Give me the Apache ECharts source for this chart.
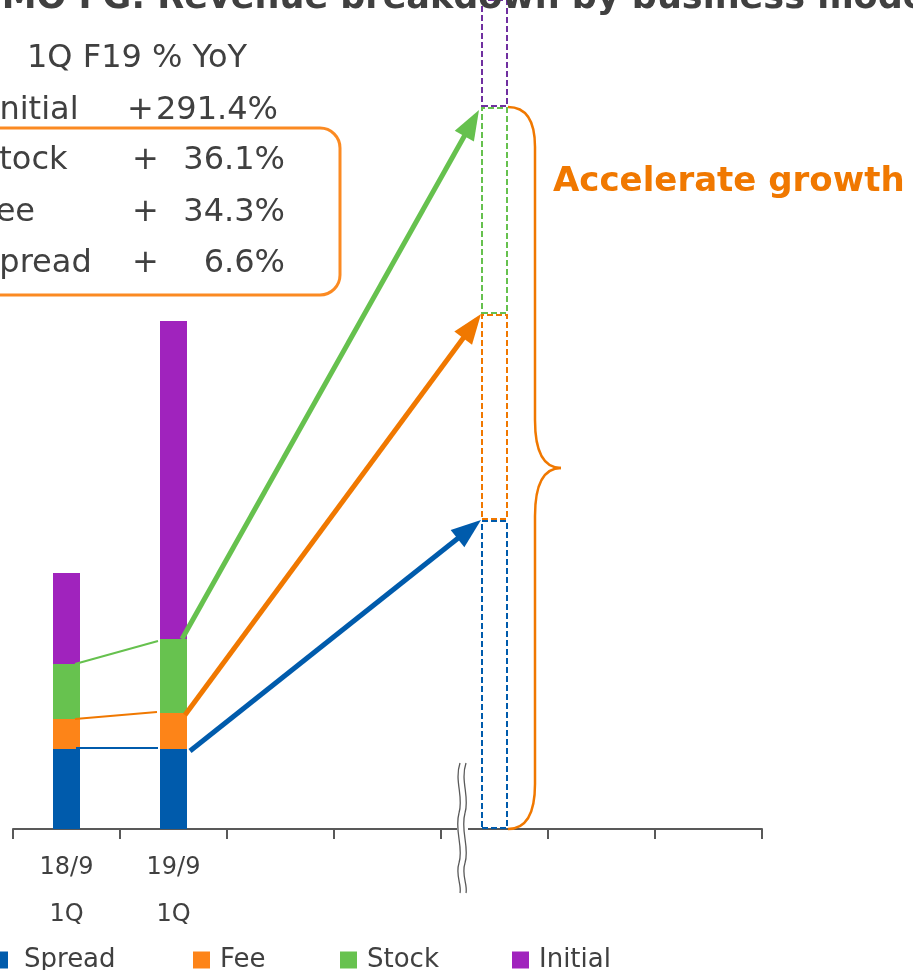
<!DOCTYPE html>
<html>
<head>
<meta charset="utf-8">
<script src="https://cdn.jsdelivr.net/npm/echarts@6/dist/echarts.min.js"></script>
<style>
  html, body { margin: 0; padding: 0; background: #fff; }
  #chart { width: 913px; height: 970px; }
</style>
</head>
<body>
<div id="chart"></div>
<script>
// Quarters on the category axis; slot 4 holds the outlined growth target bar
const categories = ['18/9\n1Q', '19/9\n1Q', '', '', '', '', ''];
const targetIndex = 4;

// Revenue by business model (stacked, bottom to top)
const spread  = [80, 80, null, null, 309, null, null];
const fee     = [30, 36, null, null, 206, null, null];
const stock   = [55, 74, null, null, 207, null, null];
const initial = [91, 318, null, null, 160, null, null];

// 1Q F19 year-on-year growth table
const yoyLabels = ['Initial', 'Stock', 'Fee', 'Spread'];
const yoyValues = [291.4, 36.1, 34.3, 6.6];

const titleText = 'GMO FG: Revenue breakdown by business model';
const tableHeader = '1Q F19 % YoY';
const calloutText = 'Accelerate growth';

const FONT = 'DejaVu Sans';
const TEXT = '#404040';
const colors = {
  Spread:  { fill: '#005bac', dash: '#005bac', arrow: '#005bac' },
  Fee:     { fill: '#fd8418', dash: '#f07800', arrow: '#f07800' },
  Stock:   { fill: '#67c24f', dash: '#66c14e', arrow: '#66c14e' },
  Initial: { fill: '#a023bd', dash: '#7030a0', arrow: '#7030a0' }
};

function buildData(name, values) {
  return values.map((v, i) => {
    if (i !== targetIndex) return v;
    return {
      value: v,
      itemStyle: {
        color: 'rgba(255,255,255,0)',
        borderColor: colors[name].dash,
        borderWidth: 2,
        borderType: [6, 3]
      }
    };
  });
}

function barSeries(name, values) {
  return {
    name, type: 'bar', stack: 'rev', barWidth: 27,
    data: buildData(name, values),
    itemStyle: { color: colors[name].fill },
    emphasis: { disabled: true },
    animation: false
  };
}

const legendPos = [
  { name: 'Spread', left: -9, gap: 11 },
  { name: 'Fee', left: 193, gap: 5 },
  { name: 'Stock', left: 340, gap: 5 },
  { name: 'Initial', left: 512, gap: 5 }
];

const chart = echarts.init(document.getElementById('chart'), null, { renderer: 'canvas' });

chart.setOption({
  animation: false,
  grid: { left: 13, right: 151, top: 0, bottom: 141, containLabel: false },
  xAxis: {
    type: 'category',
    data: categories,
    axisLine: { lineStyle: { color: '#595959', width: 2 } },
    axisTick: { show: true, length: 10, lineStyle: { color: '#595959', width: 2 } },
    axisLabel: {
      margin: 15, color: TEXT, fontFamily: FONT, fontSize: 24, lineHeight: 47,
      interval: 0
    }
  },
  yAxis: { type: 'value', min: 0, max: 829, show: false, splitLine: { show: false } },
  legend: legendPos.map(p => ({
    data: [p.name], left: p.left, top: 947, padding: 0,
    icon: 'rect', itemWidth: 17, itemHeight: 17, itemGap: 0,
    textStyle: { color: TEXT, fontFamily: FONT, fontSize: 26, padding: [0, 0, 0, p.gap] },
    selectedMode: false
  })),
  series: [
    barSeries('Spread', spread),
    barSeries('Fee', fee),
    barSeries('Stock', stock),
    barSeries('Initial', initial)
  ]
});

// ---- annotations placed from the axis scales ----
const px = (i, v) => chart.convertToPixel({ xAxisIndex: 0, yAxisIndex: 0 }, [i, v]);
const halfBar = 13.5;

function tops(i) {
  const a = spread[i], b = a + fee[i], c = b + stock[i];
  return { spread: px(i, a)[1], fee: px(i, b)[1], stock: px(i, c)[1] };
}
const t0 = tops(0), t1 = tops(1), tT = tops(targetIndex);
const x0 = px(0, 0)[0], x1 = px(1, 0)[0], xT = px(targetIndex, 0)[0];
const baseY = px(0, 0)[1];

const g = [];

function line(xa, ya, xb, yb, color, w) {
  g.push({ type: 'line', shape: { x1: xa, y1: ya, x2: xb, y2: yb },
    style: { stroke: color, lineWidth: w }, silent: true, z: 10 });
}
// cubic (or quadratic when only one control point) curve segment
function curve(p1, c1, c2, p2, color, w, z) {
  const shape = { x1: p1[0], y1: p1[1], x2: p2[0], y2: p2[1], cpx1: c1[0], cpy1: c1[1] };
  if (c2) { shape.cpx2 = c2[0]; shape.cpy2 = c2[1]; }
  g.push({ type: 'bezierCurve', shape,
    style: { stroke: color, lineWidth: w, fill: null }, silent: true, z: z || 10 });
}
function arrow(xa, ya, xb, yb, color) {
  const ang = Math.atan2(yb - ya, xb - xa);
  const L = 30, H = 11;
  const bx = xb - L * Math.cos(ang), by = yb - L * Math.sin(ang);
  line(xa, ya, bx + 3 * Math.cos(ang), by + 3 * Math.sin(ang), color, 5);
  g.push({ type: 'polygon', shape: { points: [
      [xb, yb],
      [bx - H * Math.sin(ang), by + H * Math.cos(ang)],
      [bx + H * Math.sin(ang), by - H * Math.cos(ang)]
    ] }, style: { fill: color }, silent: true, z: 11 });
}

// thin connectors between the two reported quarters
line(x0 + halfBar - 5, t0.stock, x1 - halfBar - 2, t1.stock + 2, colors.Stock.arrow, 2);
line(x0 + halfBar - 5, t0.fee, x1 - halfBar - 3, t1.fee - 1, colors.Fee.arrow, 2);
line(x0 + halfBar - 4, t0.spread - 1, x1 - halfBar - 2, t1.spread - 1, colors.Spread.arrow, 2);

// growth arrows toward the target bar
arrow(x1 + halfBar - 5, t1.stock, xT - halfBar - 2, tT.stock + 3, colors.Stock.arrow);
arrow(x1 + halfBar - 2, t1.fee + 2, xT - halfBar, tT.fee, colors.Fee.arrow);
arrow(x1 + halfBar + 3, t1.spread + 2, xT - halfBar, tT.spread, colors.Spread.arrow);

// curly brace spanning the target bar
{
  const bx0 = xT + halfBar, bx1 = bx0 + 27, tip = bx0 + 53;
  const top = tT.stock, bot = baseY, mid = (top + bot) / 2;
  const c = '#f07800', w = 2.5;
  curve([bx0, top], [bx1, top], null, [bx1, top + 40], c, w);
  line(bx1, top + 40, bx1, mid - 48, c, w);
  curve([bx1, mid - 48], [bx1, mid], null, [tip, mid], c, w);
  curve([tip, mid], [bx1, mid], null, [bx1, mid + 48], c, w);
  line(bx1, mid + 48, bx1, bot - 45, c, w);
  curve([bx1, bot - 45], [bx1, bot], null, [bx0, bot], c, w);
}

// axis break marks between the reported and target sections
{
  const boundary = (px(targetIndex - 1, 0)[0] + xT) / 2;
  const cx = boundary + 21;
  g.push({ type: 'rect', shape: { x: cx - 5, y: baseY - 3, width: 11, height: 6 },
    style: { fill: '#fff' }, silent: true, z: 12 });
  [-3, 3].forEach(off => {
    const x = cx + off, y0 = baseY - 66;
    curve([x + 1, y0], [x - 5, y0 + 18], [x + 5, y0 + 34], [x, y0 + 50], '#595959', 1.3, 13);
    curve([x, y0 + 50], [x - 5, y0 + 68], [x + 5, y0 + 84], [x, y0 + 100], '#595959', 1.3, 13);
    curve([x, y0 + 100], [x - 4, y0 + 112], [x + 3, y0 + 122], [x + 1, y0 + 130], '#595959', 1.3, 13);
  });
}

// title (runs past the top edge of the canvas)
g.push({ type: 'text', x: -27, y: -19, silent: true, z: 20,
  style: { text: titleText, fill: TEXT, font: `bold 35px "${FONT}"`, verticalAlign: 'top' } });

// growth callout
g.push({ type: 'text', x: 553, y: 182, silent: true, z: 20,
  style: { text: calloutText, fill: '#f07800', font: `bold 34px "${FONT}"`, verticalAlign: 'middle' } });

// YoY table
const tableFont = `32px "${FONT}"`;
g.push({ type: 'text', x: 27, y: 59, silent: true,
  style: { text: tableHeader, fill: TEXT, font: tableFont, verticalAlign: 'middle' } });
const rowY = [111, 161, 213, 264];
const labelX = [-10, -21, -21, -21];
yoyLabels.forEach((lab, i) => {
  g.push({ type: 'text', x: labelX[i], y: rowY[i], silent: true,
    style: { text: lab, fill: TEXT, font: tableFont, verticalAlign: 'middle' } });
  g.push({ type: 'text', x: i === 0 ? 127 : 132, y: rowY[i], silent: true,
    style: { text: '+', fill: TEXT, font: tableFont, verticalAlign: 'middle' } });
  g.push({ type: 'text', x: i === 0 ? 278 : 285, y: rowY[i], silent: true,
    style: { text: yoyValues[i].toFixed(1) + '%', fill: TEXT, font: tableFont,
      verticalAlign: 'middle', align: 'right' } });
});
g.push({ type: 'rect', shape: { x: -20, y: 128, width: 360, height: 167, r: 20 },
  style: { stroke: '#fb8a22', lineWidth: 3, fill: null }, silent: true });

chart.setOption({ graphic: g });
</script>
</body>
</html>
